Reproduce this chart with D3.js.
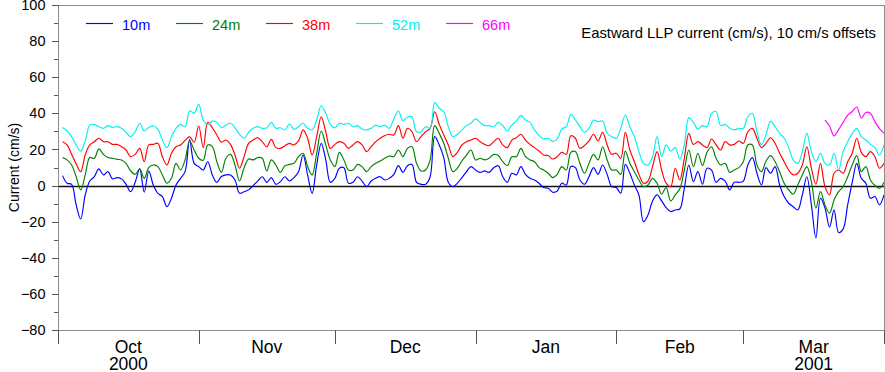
<!DOCTYPE html>
<meta charset="utf-8">
<style>
    body { margin: 0; background: #fff; }
    svg text { font-family: "Liberation Sans", Arial, Helvetica, sans-serif; }
    .frame { stroke: #8c8c8c; stroke-width: 1px; fill: none; shape-rendering: crispEdges; }
    .tick-line { stroke: #555; stroke-width: 1px; shape-rendering: crispEdges; }
    .series { fill: none; stroke-width: 1.15px; }
</style>

<svg width="885" height="372"></svg>

<script src="https://cdn.jsdelivr.net/npm/d3@7/dist/d3.min.js"></script>
<script>
    // daily values as plotted (each depth already shifted by its 10 cm/s offset), first day 2 Oct 2000
    var firstDay = "2000-10-02";

    var u10 = [5.5, 1.3, 0.7, -10.7, -18.5, -5.2, 2.5, 5, 9.2, 5.9, 7.7, 3.7, 4.4, 3.7, 0.7, -3.4, 1.8, 9.2, -3.7, 8,
        0.3, -4.3, -6.1, -11.7, -7, 0.3, 4, 7.7, 25.5, 12.3, 10.5, 8.6, 13.2, 5.9, 1.8, 5,
        5.9, 5.9, 3.1, -4.3, -3.4, -2.4, 0, 2.5, 4.9, 1.8, 4.4, 0.7, 2.2, 4.9, 2.5, 4.4, 7.7, 16.9, 5.9, -4.3,
        11.4, 23.4, 14.2, 1.8, 4, 9.6, 9.9, 1.3, 1.8, 4.9, 2.5, -0.6, 2.5, 4, 4.9, 3.1, 4,
        6.2, 11, 7.3, 11, 11.7, 1.8, 0.7, 0.7, 4.9, 27.1, 22.5, 15.5, 1.8, -0.6, 1.3, 4.4, 7.7, 10.5, 8.6, 7.3,
        8.1, 7.3, 9.9, 11, 4.9, 1.8, 6.8, 5.9, 10.5, 6.2, 4, 3.1, 1.3, -1.1, -1.5, -3.7,
        -3, 1.3, 0.3, 10.5, 9.9, 3.1, 0.7, 4.9, 9.9, 6.2, 11.4, 6.2, -0.6, -1.1, -4.2, 11.7, 6.8, 0.3, -5.2, -20,
        -16.3, -8.5, -5.2, -8.5, -12.2, -14.4, -13.5, -13, -1.5, 11.4, 2.2, 7.7, 0.7, 9.6, 8.6, 1.8, 4,
        2.5, -2.4, 1.8, 1.8, 2.5, 11.4, 15.5, 6.8, 0.3, 9.9, 6.8, 10.5, 0.3, -6.1, -9.8, -11.7, -13.5, -5.2,
        4.9, -10.7, -29, -7, -12.5, -23, -13.5, -26, -24, -10.7, 1.8, 12.3, 4, 1.3, -7, -6.1, -10.7, -5.2];

    var u24 = [15.5, 14.2, 11.4, 4.9, -2.4, 5.9, 15.5, 15.1, 20.3, 17.3, 15.5, 15.1, 14.5, 14.2, 12.3, 8.1, 6.2, 9.2, 4, 9.9,
        11.4, 10.5, 5.9, 1.3, 4, 12.3, 8.6, 14.2, 24.7, 19.7, 15.1, 14, 22.5, 21.6, 13.2, 7.3,
        15.1, 17.3, 11.4, 2.5, 9.9, 14.7, 14.2, 15.5, 15.1, 8.1, 14.2, 11.4, 7.3, 11, 11.7, 12.3, 16, 17.9, 10.5, 5.9,
        17.9, 30.2, 22.5, 14.2, 10.5, 18.4, 14.2, 8.6, 8.6, 11.7, 10.5, 7.7, 10.5, 12.3, 13.6, 15.1, 16.4,
        16, 19.7, 16, 20.6, 21.5, 12.3, 8.1, 8.6, 14.2, 33.2, 28.9, 23.4, 15.1, 7.7, 9.6, 13.6, 16.9, 19.7, 14.2, 15.1,
        14.2, 15.1, 17.3, 16.6, 13.2, 11, 16, 16, 20.6, 16, 14.2, 13.2, 9.9, 8.6, 6.8, 4.4,
        6.2, 10.5, 8.6, 18.4, 18.8, 12.3, 6.8, 12.3, 17.3, 14.2, 21.5, 14.2, 8.6, 8.6, 6.2, 19.1, 12.3, 7.7, 3.1, -0.6,
        0.3, 4, 1.3, -4.8, -1.1, -8.5, -5.2, -1.9, 8.6, 19.7, 10.5, 17.9, 11, 18.4, 21.5, 15.1, 11.4,
        12.3, 7.3, 8.6, 9.9, 13.2, 22.5, 22.5, 11.4, 7.7, 13.6, 16.6, 13.2, 7.7, 1.3, -2.4, -4.8, 0.3, 5.9,
        10.5, 2.2, -12.5, -3.4, -10.7, -15.3, -8, -3.4, -0.6, 4.9, 11.4, 16.6, 7.7, 10.5, 3.1, 0, -1.5, 1.8];

    var u38 = [24.3, 22.5, 17.3, 12, 7.7, 17, 22.5, 24.3, 26.2, 24.3, 24.3, 22.8, 22.8, 21.5, 19.7, 16, 17.3, 20.6, 13.2, 22.5,
        22.8, 23.4, 16, 11.4, 17.9, 21.5, 22.5, 25, 27, 24, 33, 21, 35, 32, 28, 24,
        25.2, 22.8, 16.9, 9.6, 16, 23.4, 25.2, 26.5, 24.3, 21.5, 25.6, 21, 20.6, 22.1, 23.4, 22.5, 24.7, 30.8, 26.2, 16.9,
        27.1, 38.1, 29.8, 20.6, 22.8, 24.3, 23.4, 20.6, 22.5, 24.3, 22.5, 18.8, 21.5, 24.3, 26.2, 27.7, 28.4,
        28, 33.2, 26.2, 31.7, 29.8, 24.3, 27.1, 29.8, 31.7, 40.9, 33.9, 28, 22.5, 16, 18.4, 22.5, 24.3, 25.2, 26.2, 24.3,
        22.8, 22.1, 24.3, 26.2, 22.5, 21, 25.2, 26.5, 28.4, 25.2, 22.8, 21, 19.1, 16.9, 16.6, 14.7,
        16, 18.4, 17.3, 27.6, 26.2, 20.6, 22.1, 24.7, 28.4, 24.7, 29.5, 22.5, 17.3, 17.9, 15.1, 29.5, 19.7, 13.2, 6.2, 1.3,
        2.5, 10.5, 18.8, 8.6, 1.3, -0.6, 9.6, 3.1, 15.1, 28.9, 22.8, 24.3, 22.5, 21, 25.8, 22.5, 19.7,
        24.3, 22.5, 22.8, 24.7, 23.4, 29.8, 31.7, 26.2, 21, 23.4, 26.5, 23.4, 17.9, 13.2, 8.6, 5.9, 6.8, 11.4,
        21.5, 9.6, 0.7, 12.3, -0.6, -5.2, 6.8, 8.6, 6.8, 13.2, 17.9, 26.2, 18.4, 16, 18.8, 16, 9.6, 12.3];

    var u52 = [32.2, 30.2, 27.1, 22.5, 19.1, 24.7, 33.5, 33.9, 32.6, 31.7, 33.2, 32.2, 32.6, 31.7, 29.5, 27.1, 29.8, 34.5, 30.2, 32.2,
        33, 31.3, 25.2, 21, 27.1, 31.7, 33.9, 32.6, 41.3, 40, 45, 36.3, 33.9, 35.7, 35, 32,
        33.5, 34.5, 32, 28.4, 26.2, 29.5, 31.7, 32.6, 31.7, 32, 35, 31.7, 32, 30.8, 34.1, 31.1, 32.6, 34.5, 31.7, 30.8,
        36.3, 44.2, 40, 33.9, 32, 34.5, 33.9, 34.5, 32.6, 33.2, 31.3, 30.8, 31.7, 33.5, 32.6, 33.5, 31.7,
        36.9, 41.3, 36, 38, 38, 29.8, 29.8, 32.6, 31.7, 46.1, 42.8, 40.9, 32.6, 27.1, 28.4, 30.8, 33.2, 34.5, 36.9, 35,
        33.2, 33.2, 32.6, 35, 33.2, 30.2, 33.5, 35.7, 38.7, 36.3, 35, 30.8, 27.7, 25.8, 26.2, 24.3,
        25.8, 31.3, 32.6, 39.4, 36.3, 32.6, 29.5, 31.7, 36.3, 35.4, 35.7, 28.9, 27.1, 26.2, 31.7, 39.1, 32.6, 27.1, 18.8, 12.3,
        11.4, 16, 27.1, 16, 22.5, 19.1, 21, 14.7, 22.5, 37.6, 35, 31.3, 33.2, 32.6, 40, 41, 33.2,
        33.9, 31.7, 30.8, 31.7, 31.7, 38.1, 40, 29.8, 22.5, 28, 35.7, 32.6, 28.9, 26.2, 21, 14.2, 12.3, 18.8,
        28.9, 18.8, 13.2, 17.9, 12.3, 11.4, 17.9, 8.6, 18.8, 24.3, 28.9, 31.7, 27.1, 25.2, 22.8, 21, 16.9, 22.5];

    // 66m record only starts on 19 Mar 2001
    var firstDay66 = "2001-03-19";
    var u66 = [36.3, 33, 27.5, 31, 35, 39, 41, 43.5, 37.3, 40.5, 40, 35.4, 31.5, 29];

    var depths = ["10m", "24m", "38m", "52m", "66m"];
    var colors = ["#0000ff", "#008000", "#ff0000", "#00f0f0", "#ff00ff"];
    var yTicks = [-80, -60, -40, -20, 0, 20, 40, 60, 80, 100];
    var monthNames = ["Oct", "Nov", "Dec", "Jan", "Feb", "Mar"];
    var yearNames = ["2000", "", "", "", "", "2001"];
    var title = "Eastward LLP current (cm/s), 10 cm/s offsets";
    var yTitle = "Current (cm/s)";

    (function () {
        var svg = d3.select("svg"),
            left = 58, right = 884, top = 5, bottom = 330,
            parse = d3.utcParse("%Y-%m-%d"),
            t0 = parse("2000-10-01"),
            t1 = parse("2001-04-01");

        var x = d3.scaleUtc().domain([t0, t1]).range([left, right]),
            y = d3.scaleLinear().domain([-80, 100]).range([bottom, top]);

        function toPoints(start, values) {
            var s = parse(start);
            return values.map(function (v, i) {
                return {date: d3.utcDay.offset(s, i), value: v};
            });
        }

        var series = [
            toPoints(firstDay, u10),
            toPoints(firstDay, u24),
            toPoints(firstDay, u38),
            toPoints(firstDay, u52),
            toPoints(firstDay66, u66)
        ];

        var line = d3.line()
            .x(function (d) { return x(d.date); })
            .y(function (d) { return y(d.value); })
            .curve(d3.curveCatmullRom.alpha(0.5));

        // zero reference line
        svg.append("line")
            .attr("x1", left).attr("x2", right)
            .attr("y1", Math.round(y(0)) + 0.5).attr("y2", Math.round(y(0)) + 0.5)
            .attr("stroke", "#111").attr("stroke-width", 1.3);

        svg.append("g").selectAll("path")
            .data(series)
            .enter()
            .append("path")
            .attr("class", "series")
            .attr("stroke", function (d, i) { return colors[i]; })
            .attr("d", line);

        // frame
        svg.append("path")
            .attr("class", "frame")
            .attr("d", "M" + (left + 0.5) + "," + (bottom + 0.5) + "V" + (top + 0.5) + "H" + (right + 0.5) +
                "V" + (bottom + 0.5) + "H" + (left + 0.5));

        // y axis: labelled ticks every 20, short ones in between
        var yAxis = svg.append("g")
            .attr("transform", "translate(" + (left + 0.5) + ",0)")
            .call(d3.axisLeft(y).tickValues(yTicks).tickSize(7).tickPadding(6));
        yAxis.select(".domain").remove();
        yAxis.selectAll(".tick line").attr("class", "tick-line");
        yAxis.selectAll(".tick text")
            .attr("fill", "#000")
            .style("font-size", "14.5px")
            .style("font-family", "'Liberation Sans', Arial, sans-serif");

        svg.append("g")
            .selectAll("line")
            .data(d3.range(-70, 100, 20))
            .enter()
            .append("line")
            .attr("class", "tick-line")
            .attr("x1", left - 4).attr("x2", left)
            .attr("y1", function (d) { return Math.round(y(d)) + 0.5; })
            .attr("y2", function (d) { return Math.round(y(d)) + 0.5; });

        // x axis: tick at every month boundary, name centred in the month
        var monthStarts = d3.utcMonth.range(t0, d3.utcDay.offset(t1, 1));
        svg.append("g")
            .selectAll("line")
            .data(monthStarts)
            .enter()
            .append("line")
            .attr("class", "tick-line")
            .attr("x1", function (d) { return Math.round(x(d)) + 0.5; })
            .attr("x2", function (d) { return Math.round(x(d)) + 0.5; })
            .attr("y1", bottom)
            .attr("y2", bottom + 14);

        var mid = monthStarts.slice(0, -1).map(function (d, i) {
            return new Date((d.getTime() + monthStarts[i + 1].getTime()) / 2);
        });

        var monthLabel = svg.append("g")
            .selectAll("text")
            .data(mid)
            .enter()
            .append("text")
            .attr("x", function (d) { return x(d); })
            .attr("text-anchor", "middle")
            .style("font-size", "17.5px");
        monthLabel.append("tspan")
            .attr("y", 353)
            .text(function (d, i) { return monthNames[i]; });
        monthLabel.append("tspan")
            .attr("x", function (d) { return x(d); })
            .attr("y", 370)
            .text(function (d, i) { return yearNames[i]; });

        // axis title
        svg.append("text")
            .attr("transform", "translate(19," + ((top + bottom) / 2) + ") rotate(-90)")
            .attr("text-anchor", "middle")
            .style("font-size", "14px")
            .text(yTitle);

        // legend
        var legend = svg.append("g")
            .selectAll("g")
            .data(depths)
            .enter()
            .append("g")
            .attr("transform", function (d, i) { return "translate(" + (86 + i * 90) + ",0)"; });
        legend.append("line")
            .attr("x1", 0).attr("x2", 27)
            .attr("y1", 23.5).attr("y2", 23.5)
            .attr("stroke", function (d, i) { return colors[i]; })
            .attr("stroke-width", 1.15);
        legend.append("text")
            .attr("x", 36)
            .attr("y", 29.5)
            .attr("fill", function (d, i) { return colors[i]; })
            .style("font-size", "14.5px")
            .text(function (d) { return d; });

        svg.append("text")
            .attr("x", 876)
            .attr("y", 38)
            .attr("text-anchor", "end")
            .style("font-size", "14.8px")
            .text(title);
    })();
</script>
